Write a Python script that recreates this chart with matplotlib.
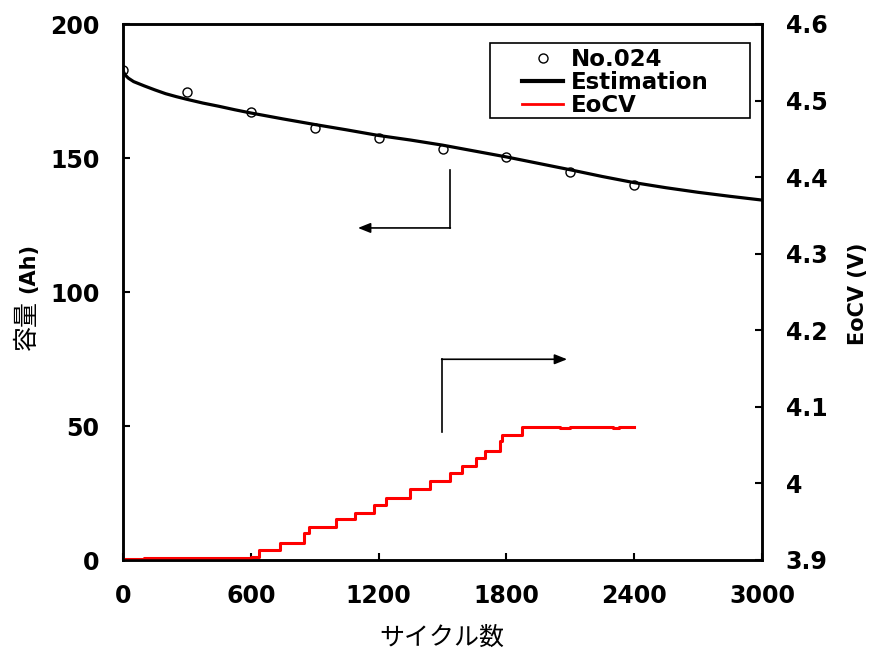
import numpy as np
import matplotlib.pyplot as plt
from matplotlib.patches import Rectangle
from matplotlib.lines import Line2D

plt.rcParams['font.family'] = ['DejaVu Sans', 'Noto Sans CJK JP']

# measured capacity, cell No.024
cycle_meas = [0, 300, 600, 900, 1200, 1500, 1800, 2100, 2400]
cap_meas = [182.8, 174.6, 167.2, 161.3, 157.6, 153.2, 150.4, 144.6, 139.8]

# estimated capacity curve
cycle_est = [0, 10, 25, 50, 100, 150, 200, 250, 300, 375, 450, 525, 600, 750, 900, 1050,
             1200, 1350, 1500, 1650, 1800, 1950, 2100, 2250, 2400, 2550, 2700, 2850, 3000]
cap_est = [182.5, 181.0, 179.8, 178.5, 176.9, 175.4, 174.0, 172.9, 171.9, 170.5, 169.3,
           168.0, 166.8, 164.6, 162.5, 160.5, 158.4, 156.7, 154.8, 152.6, 150.4, 148.0,
           145.6, 143.1, 140.8, 138.9, 137.2, 135.7, 134.3]

# end-of-charge voltage (steps)
cycle_eocv = [0, 100, 200, 300, 400, 500, 600, 639, 736, 849, 873, 998, 1088, 1180,
              1237, 1348, 1442, 1535, 1590, 1655, 1699, 1769, 1780, 1873, 2050,
              2100, 2300, 2330, 2400]
eocv = [3.9015, 3.902, 3.902, 3.9025, 3.9025, 3.903, 3.9035, 3.9131, 3.9226, 3.9349,
        3.9427, 3.9532, 3.9610, 3.9718, 3.9814, 3.9923, 4.0032, 4.0140, 4.0232,
        4.0328, 4.0427, 4.0554, 4.0632, 4.0733, 4.0725, 4.0733, 4.0722, 4.0733, 4.0733]

xticks = [0, 600, 1200, 1800, 2400, 3000]
yticks_left = [0, 50, 100, 150, 200]
yticks_right = [3.9, 4.0, 4.1, 4.2, 4.3, 4.4, 4.5, 4.6]
yticklabels_right = ['3.9', '4', '4.1', '4.2', '4.3', '4.4', '4.5', '4.6']

W, H = 876, 653
fig = plt.figure(figsize=(W / 100, H / 100), dpi=100)
ax = fig.add_axes([123 / W, 1 - 560 / H, 639 / W, 536 / H])
ax2 = ax.twinx()

ax.plot(cycle_meas, cap_meas, 'o', ms=6.5, mfc='none', mec='black', mew=1.0, zorder=2)
ax.plot(cycle_est, cap_est, '-', color='black', lw=2.3, zorder=3)
ax2.plot(cycle_eocv, eocv, '-', color='red', lw=2.2, drawstyle='steps-post')

ax.set_xlim(0, 3000)
ax.set_ylim(0, 200)
ax2.set_ylim(3.9, 4.6)

ax.set_xticks(xticks, [str(t) for t in xticks], fontsize=17, fontweight='bold')
ax.set_yticks(yticks_left, [str(t) for t in yticks_left], fontsize=17, fontweight='bold')
ax2.set_yticks(yticks_right, yticklabels_right, fontsize=17, fontweight='bold')
for a in (ax, ax2):
    a.tick_params(direction='in', length=5, width=1.5, pad=17)
    for s in a.spines.values():
        s.set_linewidth(1.8)

# arrows pointing to the axes
ax.annotate('', xy=(1103, 123.9), xytext=(1537, 123.9),
            arrowprops=dict(arrowstyle='-|>,head_length=0.75,head_width=0.3',
                            color='black', lw=1.2, shrinkA=0, shrinkB=0, mutation_scale=10))
ax.plot([1537, 1537], [145.5, 123.9], color='black', lw=1.2)
ax.annotate('', xy=(2085, 74.9), xytext=(1496, 74.9),
            arrowprops=dict(arrowstyle='-|>,head_length=0.75,head_width=0.3',
                            color='black', lw=1.2, shrinkA=0, shrinkB=0, mutation_scale=10))
ax.plot([1496, 1496], [47.8, 74.9], color='black', lw=1.2)

# legend
handles = [Line2D([], [], marker='o', ls='none', ms=6.5, mfc='none', mec='black', mew=1.0),
           Line2D([], [], color='black', lw=3),
           Line2D([], [], color='red', lw=2)]
ax2.add_patch(Rectangle((0.574, 0.8246), 0.4069, 0.140, transform=ax2.transAxes,
                        facecolor='white', edgecolor='black', lw=1.2, zorder=4))
leg = ax2.legend(handles, ['No.024', 'Estimation', 'EoCV'], loc='upper left',
                 bbox_to_anchor=(0.6244, 0.956), frameon=False, borderpad=0,
                 borderaxespad=0, handlelength=1.8, handletextpad=0.35,
                 labelspacing=0.0, prop=dict(size=16.5, weight='bold'))
leg.set_zorder(5)

# axis titles
fig.text(442 / W, 1 - 638 / H, 'サイクル数', ha='center', va='center', fontsize=18,
         family='Noto Sans CJK JP')
fig.text(27 / W, 1 - 325 / H, '容量', ha='center', va='center', rotation=90,
         fontsize=18, family='Noto Sans CJK JP')
fig.text(28 / W, 1 - 268 / H, '(Ah)', ha='center', va='center', rotation=90,
         fontsize=15, fontweight='bold')
fig.text(858 / W, 1 - 294 / H, 'EoCV (V)', ha='center', va='center', rotation=90,
         fontsize=15, fontweight='bold')

fig.savefig('out.png', dpi=100)
